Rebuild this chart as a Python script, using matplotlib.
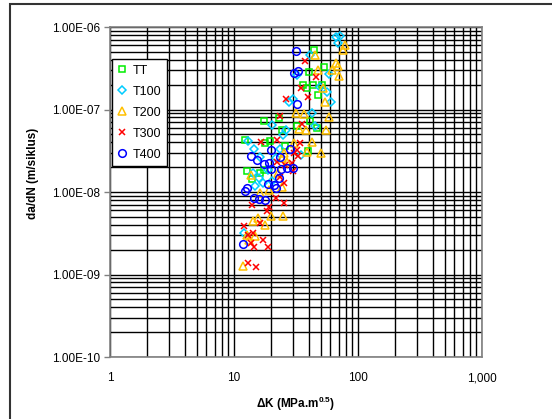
import matplotlib
matplotlib.use("Agg")
import matplotlib.pyplot as plt
from matplotlib.patches import Rectangle
from matplotlib.ticker import FixedLocator, FuncFormatter, LogLocator, NullFormatter

plt.rcParams["font.family"] = ["Liberation Sans", "DejaVu Sans"]
plt.rcParams["mathtext.fontset"] = "custom"
plt.rcParams["mathtext.rm"] = "Liberation Sans"
plt.rcParams["mathtext.bf"] = "Liberation Sans:bold"

# ΔK (MPa.m^0.5) and da/dN (m/siklus) per series
tt_dk = [44.2, 40.3, 53.2, 36.0, 38.8, 43.4, 51.3, 47.6, 23.1, 17.5, 41.0, 32.2,
         46.7, 24.4, 12.3, 19.5, 17.8, 25.8, 39.5, 12.7, 16.2, 17.5, 14.0]
tt_da = [5.26e-7, 2.85e-7, 3.27e-7, 1.98e-7, 1.82e-7, 1.98e-7, 1.98e-7, 1.50e-7,
         7.89e-8, 7.26e-8, 7.26e-8, 6.31e-8, 5.97e-8, 5.65e-8, 4.27e-8, 4.15e-8,
         3.93e-8, 3.61e-8, 3.14e-8, 1.80e-8, 1.70e-8, 1.85e-8, 1.44e-8]

t100_dk = [66.5, 71.6, 69.0, 41.0, 32.2, 58.4, 49.4, 56.2, 29.9, 27.8, 60.6, 42.6,
           20.3, 26.3, 24.9, 45.0, 13.0, 14.5, 23.5, 34.7, 16.2, 21.8, 14.2, 18.8,
           15.9, 17.1, 20.3, 14.8, 12.0]
t100_da = [7.57e-7, 7.78e-7, 6.40e-7, 4.58e-7, 2.62e-7, 2.69e-7, 1.87e-7, 1.63e-7,
           1.34e-7, 1.23e-7, 1.23e-7, 9.07e-8, 6.49e-8, 5.65e-8, 4.91e-8, 6.31e-8,
           4.15e-8, 3.32e-8, 3.32e-8, 2.81e-8, 2.66e-8, 2.59e-8, 1.70e-8, 1.85e-8,
           1.48e-8, 1.29e-8, 1.36e-8, 1.18e-8, 3.18e-9]

t200_dk = [78.6, 75.7, 45.0, 66.5, 69.0, 61.7, 47.6, 70.3, 52.2, 54.2, 31.6, 36.7,
           58.4, 33.4, 38.1, 55.2, 30.5, 42.6, 25.3, 38.8, 50.3, 24.4, 26.8, 13.7,
           22.6, 24.4, 19.2, 16.2, 19.9, 24.9, 14.2, 15.6, 17.8, 12.7, 14.8, 13.2, 11.8]
t200_da = [6.05e-7, 5.26e-7, 4.58e-7, 3.66e-7, 3.37e-7, 3.01e-7, 3.01e-7, 2.55e-7,
           1.82e-7, 1.23e-7, 9.07e-8, 8.82e-8, 8.11e-8, 5.80e-8, 5.65e-8, 5.65e-8,
           3.93e-8, 4.04e-8, 2.97e-8, 3.06e-8, 2.97e-8, 2.59e-8, 2.31e-8, 1.61e-8,
           1.70e-8, 1.15e-8, 1.06e-8, 9.72e-9, 5.12e-9, 5.12e-9, 4.45e-9, 4.84e-9,
           3.98e-9, 3.01e-9, 2.93e-9, 2.62e-9, 1.27e-9]

t300_dk = [37.4, 45.8, 34.7, 39.5, 26.3, 23.5, 35.4, 16.5, 22.2, 34.1, 32.2, 30.5,
           32.8, 29.4, 22.2, 25.8, 29.9, 23.5, 25.3, 21.8, 25.3, 14.0, 19.2, 18.5,
           12.0, 16.2, 13.0, 14.2, 17.1, 18.8, 13.7, 14.5, 13.0, 15.1]
t300_da = [3.87e-7, 2.48e-7, 1.82e-7, 1.42e-7, 1.34e-7, 8.34e-8, 6.67e-8, 4.04e-8,
           4.27e-8, 3.93e-8, 3.23e-8, 2.97e-8, 2.73e-8, 2.25e-8, 2.31e-8, 2.13e-8,
           1.80e-8, 1.52e-8, 1.29e-8, 8.46e-9, 7.36e-9, 6.96e-9, 6.58e-9, 5.89e-9,
           3.87e-9, 4.21e-9, 3.01e-9, 3.18e-9, 2.62e-9, 2.15e-9, 2.41e-9, 2.15e-9,
           1.38e-9, 1.24e-9]

t400_dk = [31.6, 30.5, 32.8, 32.2, 19.9, 28.3, 13.7, 15.3, 17.5, 19.2, 23.5, 26.8,
           29.9, 24.0, 19.9, 23.1, 18.8, 21.0, 21.8, 12.7, 12.3, 14.5, 15.9, 17.8, 11.8]
t400_da = [5.12e-7, 2.77e-7, 2.93e-7, 1.16e-7, 3.23e-8, 3.32e-8, 2.73e-8, 2.44e-8,
           2.19e-8, 2.25e-8, 2.66e-8, 1.95e-8, 1.95e-8, 1.90e-8, 1.90e-8, 1.48e-8,
           1.25e-8, 1.22e-8, 1.12e-8, 1.12e-8, 1.03e-8, 8.46e-9, 8.23e-9, 8.0e-9, 2.34e-9]

series = [
    ("TT", tt_dk, tt_da, "s", "#00EE00", 5),
    ("T100", t100_dk, t100_da, "D", "#00CCFF", 4.5),
    ("T200", t200_dk, t200_da, "^", "#FFC000", 6),
    ("T300", t300_dk, t300_da, "x", "#FF0000", 5),
    ("T400", t400_dk, t400_da, "o", "#0000FF", 5.5),
]

fig = plt.figure(figsize=(5.52, 4.19), dpi=100)
ax = fig.add_axes([110 / 552, 62 / 419, 372 / 552, 330 / 419])

for name, dk, da, mk, col, ms in series:
    if mk == "x":
        ax.plot(dk, da, ls="none", marker=mk, ms=ms, color=col, mew=1.1, label=name)
    else:
        ax.plot(dk, da, ls="none", marker=mk, ms=ms, mfc="none", mec=col, mew=1.1, label=name)

ax.set_xscale("log")
ax.set_yscale("log")
ax.set_xlim(1, 1000)
ax.set_ylim(1e-10, 1e-6)

ax.set_axisbelow(True)
ax.xaxis.set_major_locator(FixedLocator([1, 10, 100, 1000]))
ax.xaxis.set_major_formatter(FuncFormatter(lambda v, p: f"{v:,.0f}"))
ax.yaxis.set_major_formatter(FuncFormatter(lambda v, p: f"{v:.2E}"))
ax.xaxis.set_minor_locator(LogLocator(base=10, subs=range(2, 10)))
ax.yaxis.set_minor_locator(LogLocator(base=10, subs=range(2, 10)))
ax.xaxis.set_minor_formatter(NullFormatter())
ax.yaxis.set_minor_formatter(NullFormatter())
ax.grid(True, which="both", color="black", lw=1.0)

ax.tick_params(axis="x", which="both", length=0, pad=11, labelsize=8.5)
ax.tick_params(axis="y", which="major", length=4, width=1, color="#808080", pad=3, labelsize=8.5)
ax.tick_params(axis="y", which="minor", length=0)
for s in ax.spines.values():
    s.set_color("#808080")
    s.set_linewidth(1.2)

ax.set_xlabel("ΔK (MPa.m$^{\\mathbf{0.5}}$)", fontsize=8.5, fontweight="bold")
ax.set_ylabel("da/dN (m/siklus)", fontsize=8.5, fontweight="bold")
ax.xaxis.set_label_coords(0.5, -0.115)
ax.yaxis.set_label_coords(-0.19, 0.555)

leg = ax.legend(loc="upper left", bbox_to_anchor=(0.005, 0.903), fontsize=9,
                frameon=True, fancybox=False, edgecolor="black", framealpha=1,
                handlelength=0.8, handletextpad=0.4, borderpad=0.45,
                labelspacing=0.72, borderaxespad=0, numpoints=1)
leg.get_frame().set_linewidth(1.0)

# outer chart frame (left and top edges visible)
fig.patches.append(Rectangle((10 / 552, -0.05), 1.2, 1.05 - 4 / 419,
                             transform=fig.transFigure, fill=False,
                             ec="#333333", lw=1.5))

fig.savefig("out.png", dpi=100)
